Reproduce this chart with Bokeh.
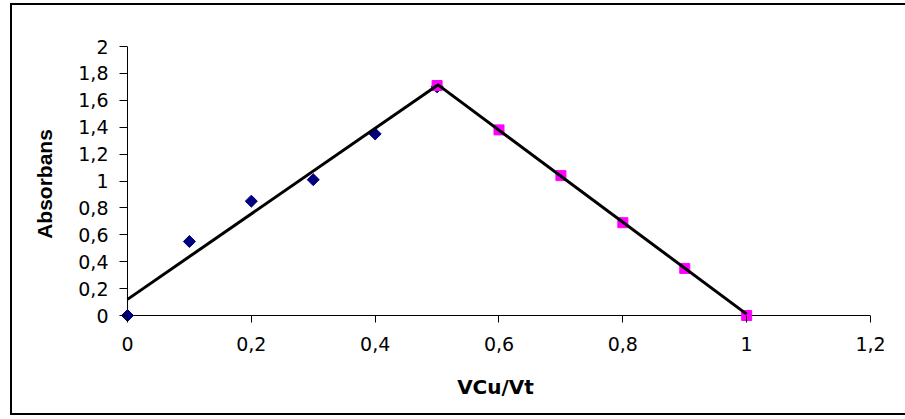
from bokeh.plotting import figure
from bokeh.models import Range1d, FixedTicker, CustomJSTickFormatter
from bokeh.embed import file_html
from bokeh.resources import INLINE

# data
blue_x = [0, 0.1, 0.2, 0.3, 0.4, 0.5]
blue_y = [0, 0.55, 0.85, 1.01, 1.35, 1.70]
pink_x = [0.5, 0.6, 0.7, 0.8, 0.9, 1.0]
pink_y = [1.71, 1.38, 1.04, 0.69, 0.35, 0.0]
trend1_x = [0, 0.5]
trend1_y = [0.12, 1.71]
trend2_x = [0.5, 1.0]
trend2_y = [1.72, 0.01]
x_ticks = [0, 0.2, 0.4, 0.6, 0.8, 1, 1.2]
y_ticks = [0, 0.2, 0.4, 0.6, 0.8, 1, 1.2, 1.4, 1.6, 1.8, 2]
x_title = "VCu/Vt"
y_title = "Absorbans"
x_min, x_max = 0, 1.2
y_min, y_max = 0, 2

# small padding so markers at the axes are not clipped by the frame
x_pad = 7 / 619.17
y_pad = 6 / 134.5

p = figure(width=895, height=412, output_backend="svg", toolbar_location=None,
           x_range=Range1d(x_min - x_pad, x_max), y_range=Range1d(y_min - y_pad, y_max),
           min_border_left=110, min_border_right=35, min_border_top=43, min_border_bottom=94)
p.margin = (3, 0, 0, 10)
# chart border: left, top and bottom edges (right edge falls outside the picture)
p.styles = {"box-shadow": "inset 2px 0 0 #000, inset 0 2px 0 #000, inset 0 -2px 0 #000"}
p.outline_line_color = None
p.xgrid.visible = False
p.ygrid.visible = False
p.background_fill_color = "white"
p.border_fill_alpha = 0

fmt = CustomJSTickFormatter(code="return String(tick).replace('.', ',');")
for ax, ticks in ((p.xaxis[0], x_ticks), (p.yaxis[0], y_ticks)):
    ax.ticker = FixedTicker(ticks=ticks)
    ax.formatter = fmt
    ax.axis_line_color = None
    ax.major_tick_line_color = "black"
    ax.major_tick_line_width = 1
    ax.minor_tick_line_color = None
    ax.major_label_text_font = "DejaVu Sans"
    ax.major_label_text_font_size = "19px"
    ax.major_label_text_color = "black"
    ax.axis_label_text_font_style = "bold"
    ax.axis_label_text_color = "black"

p.xaxis.major_tick_in = 6
p.xaxis.major_tick_out = 1
p.yaxis.major_tick_in = 7
p.yaxis.major_tick_out = 1

p.xaxis.axis_label = x_title
p.xaxis.axis_label_text_font = "DejaVu Sans"
p.xaxis.axis_label_text_font_size = "20px"
p.xaxis.major_label_standoff = 14
p.xaxis.axis_label_standoff = 21

p.yaxis.axis_label = y_title
p.yaxis.axis_label_text_font = "Liberation Sans"
p.yaxis.axis_label_text_font_size = "21px"
p.yaxis.major_label_standoff = 11
p.yaxis.axis_label_standoff = 19

# axis lines at the data origin
p.segment(x0=[x_min, x_min], y0=[y_min, y_min], x1=[x_max, x_min], y1=[y_min, y_max],
          line_color="black", line_width=1)

p.scatter(blue_x, blue_y, marker="square", angle=0.785398, size=8.5,
          fill_color="#000080", line_color="#000080")
p.scatter(pink_x, pink_y, marker="square", size=10,
          fill_color="#FF00FF", line_color="#FF00FF")
p.line(trend1_x, trend1_y, line_color="black", line_width=3)
p.line(trend2_x, trend2_y, line_color="black", line_width=3)

open("out.html", "w").write(file_html(p, INLINE))
